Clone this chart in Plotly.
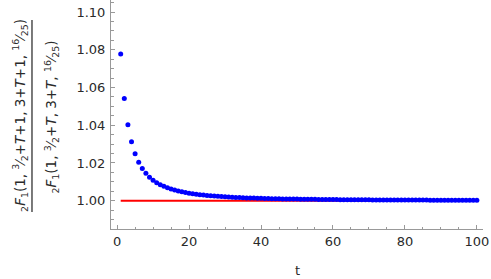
import plotly.graph_objects as go

t_vals = list(range(1, 101))
ratio_vals = [
    1.0778, 1.0542, 1.0403, 1.0312, 1.0249, 1.0204, 1.0171, 1.0145, 1.0124, 1.01086,
    1.00957, 1.00850, 1.00760, 1.00683, 1.00618, 1.00561, 1.00512, 1.00469, 1.00432, 1.00398,
    1.00369, 1.00342, 1.00319, 1.00297, 1.00278, 1.00261, 1.00245, 1.00230, 1.00217, 1.00205,
    1.00194, 1.00184, 1.00174, 1.00166, 1.00158, 1.00150, 1.00143, 1.00137, 1.00130, 1.00125,
    1.00120, 1.00115, 1.00110, 1.00105, 1.00101, 1.00097, 1.00094, 1.00090, 1.00087, 1.00084,
    1.00081, 1.00078, 1.00075, 1.00073, 1.00071, 1.00068, 1.00066, 1.00064, 1.00062, 1.00060,
    1.00058, 1.00057, 1.00055, 1.00053, 1.00052, 1.00051, 1.00049, 1.00048, 1.00047, 1.00045,
    1.00044, 1.00043, 1.00042, 1.00041, 1.00040, 1.00039, 1.00038, 1.00037, 1.00036, 1.00035,
    1.00035, 1.00034, 1.00033, 1.00032, 1.00032, 1.00031, 1.00030, 1.00030, 1.00029, 1.00028,
    1.00028, 1.00027, 1.00027, 1.00026, 1.00026, 1.00025, 1.00025, 1.00024, 1.00024, 1.00023,
]
ref_t = [1, 100]
ref_y = [1.0, 1.0]

x_ticks = [0, 20, 40, 60, 80, 100]
y_ticks = [1.00, 1.02, 1.04, 1.06, 1.08, 1.10]
x_label = "t"
num_label = ("<sub>2</sub><i>F</i><sub>1</sub>(1, <sup>3</sup>⁄<sub>2</sub>+<i>T</i>+1, "
             "3+<i>T</i>+1, <sup>16</sup>⁄<sub>25</sub>)")
den_label = ("<sub>2</sub><i>F</i><sub>1</sub>(1, <sup>3</sup>⁄<sub>2</sub>+<i>T</i>, "
             "3+<i>T</i>, <sup>16</sup>⁄<sub>25</sub>)")

FONT = "DejaVu Sans"
axis_color = "#999999"
text_color = "#2a2a2a"

fig = go.Figure()
fig.add_trace(go.Scatter(x=ref_t, y=ref_y, mode="lines",
                         line=dict(color="#ff0000", width=2), hoverinfo="skip"))
fig.add_trace(go.Scatter(x=t_vals, y=ratio_vals, mode="markers",
                         marker=dict(color="#0000ff", size=5, line=dict(width=0))))

axis_common = dict(showgrid=False, zeroline=False, showline=True, linecolor=axis_color,
                   linewidth=1, ticks="inside", ticklen=4, tickcolor=axis_color,
                   tickfont=dict(family=FONT, size=13, color=text_color), mirror=False,
                   automargin=False)

fig.update_xaxes(range=[-1.7, 101.7], tickvals=x_ticks, ticktext=[str(v) for v in x_ticks],
                 minor=dict(dtick=5, tick0=0, ticks="inside", ticklen=2.5, tickcolor=axis_color),
                 **axis_common)
fig.update_yaxes(range=[0.985, 1.1064], tickvals=y_ticks, ticktext=[f"{v:.2f}" for v in y_ticks],
                 minor=dict(dtick=0.005, tick0=1.0, ticks="inside", ticklen=2.5, tickcolor=axis_color),
                 ticklabelstandoff=2,
                 **axis_common)

fig.add_annotation(text=x_label, xref="paper", yref="paper", x=0.5, y=-0.18,
                   xanchor="center", yanchor="middle", showarrow=False,
                   font=dict(family=FONT, size=13, color=text_color))
fig.add_annotation(text=num_label, xref="paper", yref="paper", x=-0.2446, y=0.494,
                   xanchor="center", yanchor="middle", textangle=-90, showarrow=False,
                   font=dict(family=FONT, size=13.5, color=text_color))
fig.add_annotation(text=den_label, xref="paper", yref="paper", x=-0.1586, y=0.487,
                   xanchor="center", yanchor="middle", textangle=-90, showarrow=False,
                   font=dict(family=FONT, size=13.5, color=text_color))
fig.add_shape(type="line", xref="paper", yref="paper", x0=-0.2124, x1=-0.2124,
              y0=0.074, y1=0.913, line=dict(color="#333333", width=1.3))

fig.update_layout(width=491, height=279, margin=dict(l=111, r=8, t=0, b=50),
                  plot_bgcolor="white", paper_bgcolor="white", showlegend=False)

fig.write_html("out.html", config={"displayModeBar": False},
               post_script="document.body.style.margin='0px';")
